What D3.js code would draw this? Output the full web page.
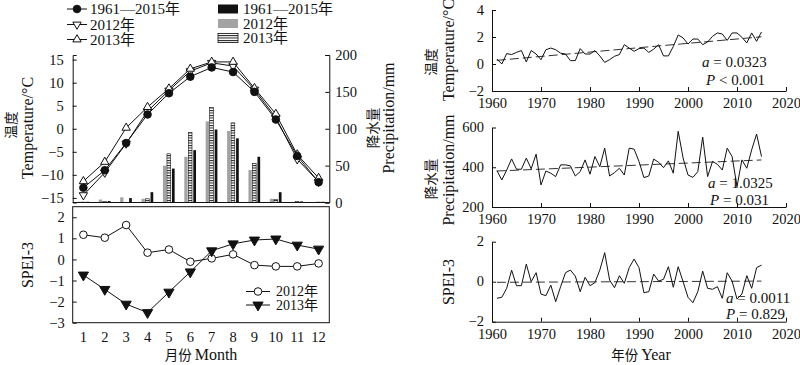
<!DOCTYPE html>
<html>
<head>
<meta charset="utf-8">
<script src="https://cdn.jsdelivr.net/npm/d3@7"></script>
<style>
  body { margin: 0; background: #fff; }
  svg { display: block; }
  text { font-family: "Liberation Serif", "Noto Sans CJK SC", serif; fill: #111; }
  .domain, .tick line { stroke: #111; stroke-width: 1; }
</style>
</head>
<body>
<div id="container"></div>
<script>
// monthly climatology (left panels)
var months = [1, 2, 3, 4, 5, 6, 7, 8, 9, 10, 11, 12];
var tempMean = [-12.8, -9.0, -3.1, 3.1, 7.7, 11.3, 13.3, 12.3, 8.0, 2.0, -5.9, -11.6];
var temp2012 = [-14.4, -9.5, -3.2, 3.8, 8.3, 12.5, 14.3, 13.6, 8.5, 2.4, -6.6, -11.5];
var temp2013 = [-11.4, -7.2, 0.2, 4.7, 8.7, 13.0, 14.5, 14.5, 8.8, 3.2, -5.6, -10.7];
var precMean = [1, 2, 6, 14, 46, 71, 99, 87, 62, 14, 1.5, 1];
var prec2012 = [1, 4, 7, 5, 50, 62, 110, 97, 44, 5, 0.5, 0.5];
var prec2013 = [0.5, 1.5, 0, 5, 66, 95, 129, 108, 53, 4, 1.5, 0.5];
var spei2012 = [1.17, 1.03, 1.63, 0.32, 0.47, -0.11, 0.05, 0.24, -0.27, -0.33, -0.33, -0.19];
var spei2013 = [-0.74, -1.42, -2.12, -2.52, -1.55, -0.59, 0.41, 0.74, 0.92, 0.97, 0.68, 0.49];

// annual series 1961-2015 (right panels)
var years = d3.range(1961, 2016);
var tempAnnual = [0.37, 0.0, 0.77, 0.7, 0.86, 1.0, 0.15, 1.0, 0.74, 0.32,
  1.06, 1.18, 1.06, 0.8, 0.74, 0.25, 0.25, 1.14, 0.74, 0.74,
  1.0, 0.6, 0.12, 0.32, 0.57, 0.7, 1.43, 1.18, 0.94, 1.14,
  1.18, 0.86, 1.1, 1.43, 0.6, 0.6, 1.3, 2.15, 1.93, 1.48,
  1.85, 1.85, 1.43, 1.63, 2.05, 2.3, 2.22, 1.75, 2.3, 2.3,
  1.98, 1.56, 2.3, 1.68, 2.37];
var precAnnual = [383, 336, 386, 442, 390, 390, 446, 392, 466, 311,
  381, 370, 353, 412, 412, 407, 356, 378, 437, 365,
  454, 403, 496, 356, 373, 395, 361, 496, 491, 429,
  348, 356, 441, 425, 398, 432, 370, 581, 446, 361,
  349, 378, 552, 353, 429, 415, 386, 496, 454, 302,
  437, 395, 488, 567, 454];
var speiAnnual = [-0.83, -0.78, -0.33, 0.58, -0.2, -0.2, 0.88, 0.0, 0.45, -0.62,
  -0.7, -0.17, -1.0, -0.25, 0.45, 0.58, 0.28, -0.5, 0.22, -0.2,
  -0.05, 0.58, 1.45, 0.08, -0.3, 0.3, -0.08, 0.7, 1.13, 0.7,
  -0.55, -0.5, 0.38, 0.03, 0.12, 0.75, -0.28, 0.75, 0.0, -0.78,
  -1.05, -0.5, 0.53, -0.33, -0.38, -0.25, -0.83, 0.45, 0.03, -0.87,
  -0.62, 0.3, -0.33, 0.7, 0.83];
// linear trends: [slope a, value in 1961]
var tempTrend = [0.0323, 0.27];
var precTrend = [1.0325, 381];
var speiTrend = [0.0011, -0.03];

var serif = "'Liberation Serif', serif";
var cjk = "'Noto Sans CJK SC'";

var svg = d3.select("#container").append("svg")
  .attr("width", 800).attr("height", 365);

var defs = svg.append("defs");
var pat = defs.append("pattern").attr("id", "stripe")
  .attr("patternUnits", "userSpaceOnUse").attr("width", 6).attr("height", 2.5);
pat.append("rect").attr("width", 6).attr("height", 2.5).attr("fill", "#fff");
pat.append("rect").attr("width", 6).attr("height", 1).attr("fill", "#222");

function styleAxis(g) {
  g.attr("font-family", null).attr("font-size", null);
  g.selectAll("text").style("font-family", serif).style("font-size", "14.5px").attr("fill", "#111");
}

// ---------- left: temperature + precipitation ----------
var x = d3.scaleBand().domain(months).range([72.7, 329.3]);
var yT = d3.scaleLinear().domain([-16, 16]).range([202.5, 55]);
var yP = d3.scaleLinear().domain([0, 200]).range([202.5, 55]);

var barSets = [
  { vals: prec2012, fill: "#a3a3a3", stroke: "none", dx: -6, w: 3.3 },
  { vals: prec2013, fill: "url(#stripe)", stroke: "#111", dx: -2, w: 3.7 },
  { vals: precMean, fill: "#111", stroke: "none", dx: 3, w: 2.7 }
];
barSets.forEach(function(s) {
  svg.append("g").selectAll("rect").data(s.vals).enter().append("rect")
    .attr("x", function(d, i) { return x(months[i]) + x.bandwidth() / 2 + s.dx; })
    .attr("y", function(d) { return yP(d); })
    .attr("width", s.w)
    .attr("height", function(d) { return yP(0) - yP(d); })
    .attr("fill", s.fill).attr("stroke", s.stroke).attr("stroke-width", 0.6);
});

svg.append("g").attr("transform", "translate(72.7,0)")
  .call(d3.axisLeft(yT).tickValues([-15, -10, -5, 0, 5, 10, 15]).tickSize(-4).tickPadding(9))
  .call(styleAxis);
svg.append("g").attr("transform", "translate(329.3,0)")
  .call(d3.axisRight(yP).tickValues([0, 50, 100, 150, 200]).tickSize(-4).tickPadding(6))
  .call(styleAxis);
svg.append("line").attr("x1", 72.7).attr("x2", 329.3).attr("y1", 202.5).attr("y2", 202.5)
  .attr("stroke", "#111");

var cx = function(d, i) { return x(months[i]) + x.bandwidth() / 2; };
var tLine = d3.line().x(function(d, i) { return cx(d, i); }).y(function(d) { return yT(d); });

function drawSeries(vals, line, mk) {
  svg.append("path").datum(vals).attr("d", line)
    .attr("fill", "none").attr("stroke", "#111").attr("stroke-width", 1);
  var g = svg.append("g");
  vals.forEach(function(d, i) {
    mk(g, cx(d, i), line.y()(d));
  });
}
function circ(fill) {
  return function(g, px, py) {
    g.append("circle").attr("cx", px).attr("cy", py).attr("r", 3.8)
      .attr("fill", fill).attr("stroke", "#111").attr("stroke-width", 1);
  };
}
function tri(up, fill, size) {
  return function(g, px, py) {
    g.append("path").attr("d", d3.symbol(d3.symbolTriangle, size)())
      .attr("transform", "translate(" + px + "," + py + ")" + (up ? "" : " rotate(180)"))
      .attr("fill", fill).attr("stroke", "#111").attr("stroke-width", 1);
  };
}

drawSeries(temp2012, tLine, tri(false, "#fff", 30));
drawSeries(temp2013, tLine, tri(true, "#fff", 30));
drawSeries(tempMean, tLine, circ("#111"));

function vText(px, py, txt, size, fam) {
  svg.append("text").attr("transform", "translate(" + px + "," + py + ") rotate(-90)")
    .attr("text-anchor", "middle").style("font-family", fam).style("font-size", size).text(txt);
}

// titles left top
vText(16, 125, "温度", "13.5px", cjk);
vText(33, 128, "Temperature/°C", "16px", serif);
vText(378, 128, "降水量", "13.5px", cjk);
vText(394, 118, "Precipitation/mm", "16px", serif);

// legends top
var legL = [
  { t: "1961—2015年", mk: circ("#111"), y: 9 },
  { t: "2012年", mk: tri(false, "#fff", 30), y: 24.5 },
  { t: "2013年", mk: tri(true, "#fff", 30), y: 39.5 }
];
legL.forEach(function(l) {
  svg.append("line").attr("x1", 67).attr("x2", 87).attr("y1", l.y).attr("y2", l.y)
    .attr("stroke", "#111");
  l.mk(svg, 77, l.y);
  svg.append("text").attr("x", 90).attr("y", l.y + 5).style("font-size", "15px").text(l.t);
});
var legR = [
  { t: "1961—2015年", fill: "#111", stroke: "none", y: 9 },
  { t: "2012年", fill: "#a3a3a3", stroke: "none", y: 23.5 },
  { t: "2013年", fill: "url(#stripe)", stroke: "#111", y: 38 }
];
legR.forEach(function(l) {
  svg.append("rect").attr("x", 218).attr("y", l.y - 4.5).attr("width", 20).attr("height", 9)
    .attr("fill", l.fill).attr("stroke", l.stroke).attr("stroke-width", 0.8);
  svg.append("text").attr("x", 243).attr("y", l.y + 5).style("font-size", "15px").text(l.t);
});

// ---------- left: SPEI ----------
var yS = d3.scaleLinear().domain([-3, 2.5]).range([322.7, 206.7]);
svg.append("rect").attr("x", 72.7).attr("y", 206.7).attr("width", 256.6).attr("height", 116)
  .attr("fill", "none").attr("stroke", "#111");
svg.append("g").attr("transform", "translate(72.7,0)")
  .call(d3.axisLeft(yS).tickValues([-3, -2, -1, 0, 1, 2]).tickSize(-4).tickPadding(8).tickFormat(d3.format("d")))
  .call(function(g) { g.select(".domain").remove(); })
  .call(styleAxis);
svg.append("g").attr("transform", "translate(0,322.7)")
  .call(d3.axisBottom(x).tickSize(0).tickPadding(9))
  .call(function(g) { g.select(".domain").remove(); })
  .call(styleAxis);

var sLine = d3.line().x(function(d, i) { return cx(d, i); }).y(function(d) { return yS(d); });
drawSeries(spei2012, sLine, circ("#fff"));
drawSeries(spei2013, sLine, tri(false, "#111", 45));

vText(33, 265, "SPEI-3", "16px", serif);
var monthTitle = svg.append("text").attr("x", 201).attr("y", 360).attr("text-anchor", "middle");
monthTitle.append("tspan").style("font-family", cjk).style("font-size", "13.5px").text("月份 ");
monthTitle.append("tspan").style("font-size", "16px").text("Month");

var legS = [
  { t: "2012年", mk: circ("#fff"), y: 291.5 },
  { t: "2013年", mk: tri(false, "#111", 45), y: 305 }
];
legS.forEach(function(l) {
  svg.append("line").attr("x1", 246).attr("x2", 270).attr("y1", l.y).attr("y2", l.y).attr("stroke", "#111");
  l.mk(svg, 258, l.y);
  svg.append("text").attr("x", 276).attr("y", l.y + 4.5).style("font-size", "14px").text(l.t);
});

// ---------- right: annual panels ----------
var xY = d3.scaleLinear().domain([1960, 2020]).range([492, 786]);
var panels = [
  { vals: tempAnnual, trend: tempTrend, dom: [-2, 4], rng: [91, 10], ticks: [-2, 0, 2, 4],
    a: "0.0323", p: "< 0.001", ax: 702, px: 706, ay: 67, py: 85 },
  { vals: precAnnual, trend: precTrend, dom: [200, 600], rng: [207, 127.5], ticks: [200, 400, 600],
    a: "1.0325", p: "= 0.031", ax: 708, px: 710, ay: 188, py: 205 },
  { vals: speiAnnual, trend: speiTrend, dom: [-2, 2], rng: [321.7, 241.7], ticks: [-2, 0, 2],
    a: "0.0011", p: "= 0.829", ax: 726, px: 726, ay: 303, py: 319 }
];
panels.forEach(function(pn) {
  var y = d3.scaleLinear().domain(pn.dom).range(pn.rng);
  svg.append("g").attr("transform", "translate(492,0)")
    .call(d3.axisLeft(y).tickValues(pn.ticks).tickSize(-4).tickPadding(8).tickSizeOuter(0).tickFormat(d3.format("d")))
    .call(styleAxis)
    .call(function(g) { g.selectAll("text").attr("dy", "0.28em"); });
  svg.append("g").attr("transform", "translate(0," + pn.rng[0] + ")")
    .call(d3.axisBottom(xY).tickValues([1960, 1970, 1980, 1990, 2000, 2010, 2020]).tickSize(-4).tickPadding(7).tickSizeOuter(0).tickFormat(d3.format("d")))
    .call(styleAxis);

  var line = d3.line().x(function(d, i) { return xY(years[i]); }).y(function(d) { return y(d); });
  var t0 = years[0], t1 = years[years.length - 1];
  var trendPts = [[t0, pn.trend[1]], [t1, pn.trend[1] + pn.trend[0] * (t1 - t0)]];
  svg.append("path").datum(trendPts)
    .attr("d", d3.line().x(function(d) { return xY(d[0]); }).y(function(d) { return y(d[1]); }))
    .attr("fill", "none").attr("stroke", "#333").attr("stroke-width", 1).attr("stroke-dasharray", "9,4");
  svg.append("path").datum(pn.vals).attr("d", line)
    .attr("fill", "none").attr("stroke", "#111").attr("stroke-width", 1);

  var ta = svg.append("text").attr("x", pn.ax).attr("y", pn.ay).style("font-size", "15px");
  ta.append("tspan").style("font-style", "italic").text("a");
  ta.append("tspan").text(" = " + pn.a);
  var tp = svg.append("text").attr("x", pn.px).attr("y", pn.py).style("font-size", "15px");
  tp.append("tspan").style("font-style", "italic").text("P");
  tp.append("tspan").text(" " + pn.p);
});

vText(436, 62, "温度", "13.5px", cjk);
vText(454, 50, "Temperature/°C", "16px", serif);
vText(436, 179, "降水量", "13.5px", cjk);
vText(454, 170, "Precipitation/mm", "16px", serif);
vText(454, 282, "SPEI-3", "16px", serif);
var yearTitle = svg.append("text").attr("x", 641).attr("y", 360).attr("text-anchor", "middle");
yearTitle.append("tspan").style("font-family", cjk).style("font-size", "13.5px").text("年份 ");
yearTitle.append("tspan").style("font-size", "16px").text("Year");
</script>
</body>
</html>
